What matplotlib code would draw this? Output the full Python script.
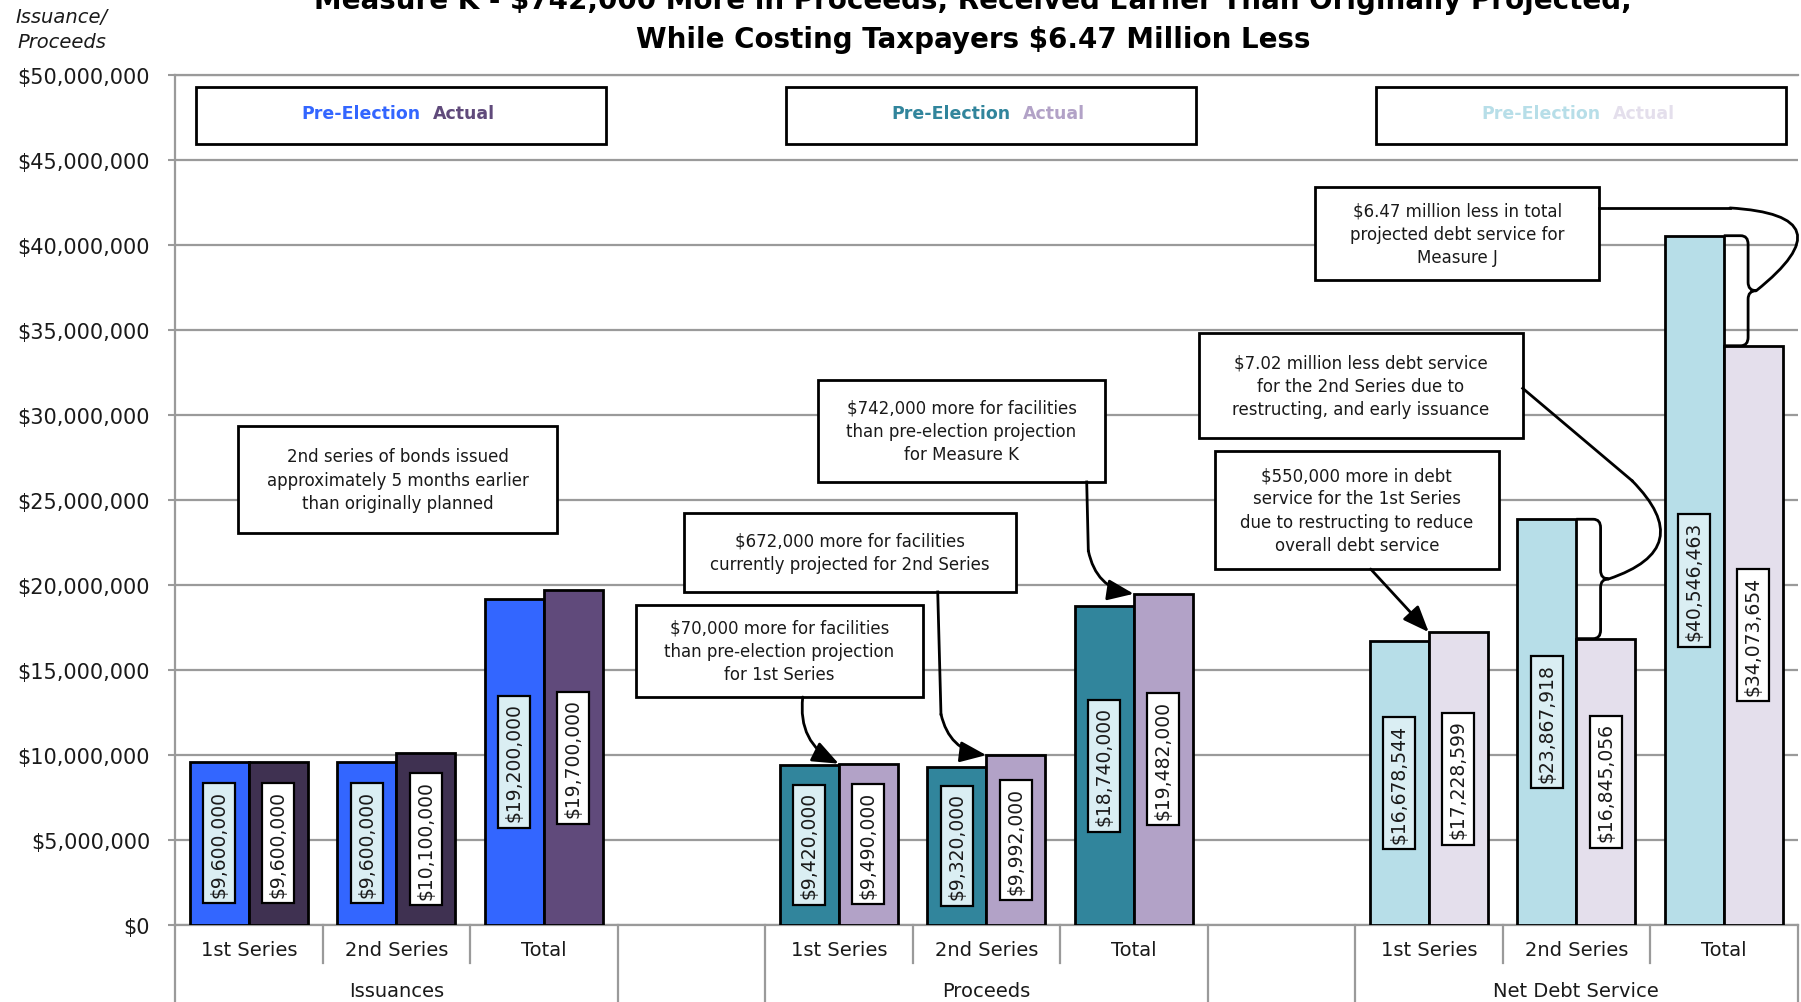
import numpy as np
import matplotlib
matplotlib.use('Agg')
import matplotlib.pyplot as plt
from matplotlib.patches import Rectangle, FancyArrowPatch, PathPatch
from matplotlib.path import Path
from matplotlib.ticker import FuncFormatter

# kategorie i grupy na osi x
categories = ['1st Series', '2nd Series', 'Total']
groups = ['Issuances', 'Proceeds', 'Net Debt Service']

# wartosci: przed wyborami / faktyczne
issuance_pre = [9600000, 9600000, 19200000]
issuance_actual = [9600000, 10100000, 19700000]
proceeds_pre = [9420000, 9320000, 18740000]
proceeds_actual = [9490000, 9992000, 19482000]
debt_pre = [16678544, 23867918, 40546463]
debt_actual = [17228599, 16845056, 34073654]

pre_series = [issuance_pre, proceeds_pre, debt_pre]
actual_series = [issuance_actual, proceeds_actual, debt_actual]

pre_colors = ['#3366FF', '#31859C', '#B7DEE8']
actual_colors = [['#3F3151', '#3F3151', '#604A7B'],
                 ['#B2A2C7'] * 3,
                 ['#E4DFEC'] * 3]

GRID = '#9a9a9a'
TXT = '#1a1a1a'

fig = plt.figure(figsize=(18.01, 10.03), dpi=100)
ax = fig.add_axes([175 / 1801, 77 / 1003, 1622.5 / 1801, 850 / 1003])


def value_label(x, v, fill):
    ax.text(x, v / 2, f'${v:,.0f}', rotation=90, ha='center', va='center',
            fontsize=13.5, color=TXT, zorder=4,
            bbox=dict(boxstyle='square,pad=0.35', fc=fill, ec='black', lw=1.6))


slot = {}
for g in range(3):
    x = np.arange(3) + 4 * g
    ax.bar(x - 0.2, pre_series[g], width=0.4, color=pre_colors[g],
           edgecolor='black', linewidth=2, zorder=3)
    ax.bar(x + 0.2, actual_series[g], width=0.4, color=actual_colors[g],
           edgecolor='black', linewidth=2, zorder=3)
    for xi, v in zip(x - 0.2, pre_series[g]):
        value_label(xi, v, '#DAEEF3')
    for xi, v in zip(x + 0.2, actual_series[g]):
        value_label(xi, v, 'white')
    slot[g] = x

ax.set_xlim(-0.5, 10.5)
ax.set_ylim(0, 50e6)
ax.set_yticks(np.arange(0, 50e6 + 1, 5e6))
ax.yaxis.set_major_formatter(FuncFormatter(lambda v, p: f'${v:,.0f}'))
ax.tick_params(axis='y', length=5, width=1.5, color=GRID, labelsize=15,
               pad=13, labelcolor=TXT)
ax.set_xticks([])
ax.grid(axis='y', color=GRID, lw=1.6, zorder=0)
ax.set_axisbelow(True)
for s in ['left', 'bottom', 'top']:
    ax.spines[s].set_color(GRID)
    ax.spines[s].set_linewidth(1.6)
ax.spines['right'].set_visible(False)

# os kategorii w dwoch poziomach
xt = ax.get_xaxis_transform()
for b in np.arange(-0.5, 11, 1.0):
    long_line = b in (-0.5, 2.5, 3.5, 6.5, 7.5, 10.5)
    ax.plot([b, b], [0, -0.12 if long_line else -0.045], transform=xt,
            color=GRID, lw=1.6, clip_on=False)
for g in range(3):
    for i, c in enumerate(categories):
        ax.text(4 * g + i, -0.0294, c, transform=xt, ha='center', va='center',
                fontsize=14, color=TXT)
    ax.text(4 * g + 1, -0.0776, groups[g], transform=xt, ha='center',
            va='center', fontsize=14, color=TXT)

# legenda w ramkach nad kazda grupa
for g in range(3):
    cx = 4 * g + 1.03
    ax.add_patch(Rectangle((cx - 1.39, 45.94e6), 2.78, 3.35e6, fc='white',
                           ec='black', lw=2, zorder=5))
    ax.annotate('Pre-Election', (cx, 47.75e6), xytext=(20, 0),
                textcoords='offset pixels', ha='right', va='center',
                fontsize=12.5, fontweight='bold', color=pre_colors[g], zorder=6)
    ax.annotate('Actual', (cx, 47.75e6), xytext=(32, 0),
                textcoords='offset pixels', ha='left', va='center',
                fontsize=12.5, fontweight='bold', color=actual_colors[g][-1],
                zorder=6)


def callout(x0, x1, y0, y1, text):
    ax.add_patch(Rectangle((x0, y0), x1 - x0, y1 - y0, fc='white', ec='black',
                           lw=2, zorder=5))
    ax.text((x0 + x1) / 2, (y0 + y1) / 2, text, ha='center', va='center',
            fontsize=12, color=TXT, linespacing=1.38, zorder=6)


callout(-0.07, 2.09, 23.06e6, 29.35e6,
        '2nd series of bonds issued\napproximately 5 months earlier\nthan originally planned')
callout(3.86, 5.805, 26.06e6, 32.06e6,
        '$742,000 more for facilities\nthan pre-election projection\nfor Measure K')
callout(2.95, 5.20, 19.59e6, 24.24e6,
        '$672,000 more for facilities\ncurrently projected for 2nd Series')
callout(2.625, 4.57, 13.41e6, 18.82e6,
        '$70,000 more for facilities\nthan pre-election projection\nfor 1st Series')
callout(7.23, 9.155, 37.94e6, 43.41e6,
        '$6.47 million less in total\nprojected debt service for\nMeasure J')
callout(6.44, 8.64, 28.65e6, 34.82e6,
        '$7.02 million less debt service\nfor the 2nd Series due to\nrestructing, and early issuance')
callout(6.55, 8.475, 20.94e6, 27.88e6,
        '$550,000 more in debt\nservice for the 1st Series\ndue to restructing to reduce\noverall debt service')


def arrow(p0, p1, rad, head=True):
    style = '-|>,head_length=0.8,head_width=0.32' if head else '-'
    ax.add_patch(FancyArrowPatch(p0, p1, arrowstyle=style,
                                 connectionstyle=f'arc3,rad={rad}',
                                 mutation_scale=20, lw=2, color='black',
                                 shrinkA=0, shrinkB=0, zorder=6, clip_on=False))


# strzalki do slupkow "Actual"
arrow((3.756, 13.41e6), (slot[1][0], proceeds_actual[0]), 0.35)
ax.plot([4.671, 4.693], [19.59e6, 12.41e6], color='black', lw=2, zorder=6)
arrow((4.693, 12.41e6), (slot[1][1], proceeds_actual[1]), 0.35)
ax.plot([5.681, 5.692], [26.06e6, 22.02e6], color='black', lw=2, zorder=6)
arrow((5.692, 22.02e6), (slot[1][2], proceeds_actual[2]), 0.35)
arrow((7.606, 20.94e6), (slot[2][0], debt_actual[0]), 0.0)


def brace(x0, y_top, y_bot):
    # klamra po prawej stronie slupka, zwrocona ostrzem w prawo
    xv, rx, ry = x0 + 0.165, 0.05, 0.5e6
    xtip = xv + 0.055
    ym = (y_top + y_bot) / 2
    verts = [(x0, y_top), (xv - rx, y_top), (xv, y_top), (xv, y_top - ry),
             (xv, ym + ry), (xv, ym), (xtip, ym), (xv, ym), (xv, ym - ry),
             (xv, y_bot + ry), (xv, y_bot), (xv - rx, y_bot), (x0, y_bot)]
    codes = [Path.MOVETO, Path.LINETO, Path.CURVE3, Path.CURVE3,
             Path.LINETO, Path.CURVE3, Path.CURVE3, Path.CURVE3, Path.CURVE3,
             Path.LINETO, Path.CURVE3, Path.CURVE3, Path.LINETO]
    ax.add_patch(PathPatch(Path(verts, codes), fc='none', ec='black', lw=2,
                           zorder=6, clip_on=False))
    return xtip, ym


tip2 = brace(slot[2][1], debt_pre[1], debt_actual[1])
tipT = brace(slot[2][2], debt_pre[2], debt_actual[2])

ax.plot([8.637, 9.378], [31.57e6, 26.14e6], color='black', lw=2, zorder=6)
arrow((9.378, 26.14e6), tip2, -0.8, head=False)
ax.plot([9.154, 10.042], [42.18e6, 42.18e6], color='black', lw=2, zorder=6)
arrow((10.042, 42.18e6), tipT, -1.3, head=False)

# tytul i opis osi
fig.text(0.5403, 1 - 9 / 1003,
         'Measure K - $742,000 More in Proceeds, Received Earlier Than Originally Projected,',
         ha='center', va='baseline', fontsize=20, fontweight='bold', color='black')
fig.text(0.5403, 1 - 48 / 1003, 'While Costing Taxpayers $6.47 Million Less',
         ha='center', va='baseline', fontsize=20, fontweight='bold', color='black')
fig.text(62 / 1801, 1 - 30 / 1003, 'Issuance/\nProceeds', ha='center',
         va='center', fontsize=14, style='italic', color=TXT, linespacing=1.35)

fig.savefig('out.png', dpi=100, facecolor='white')
